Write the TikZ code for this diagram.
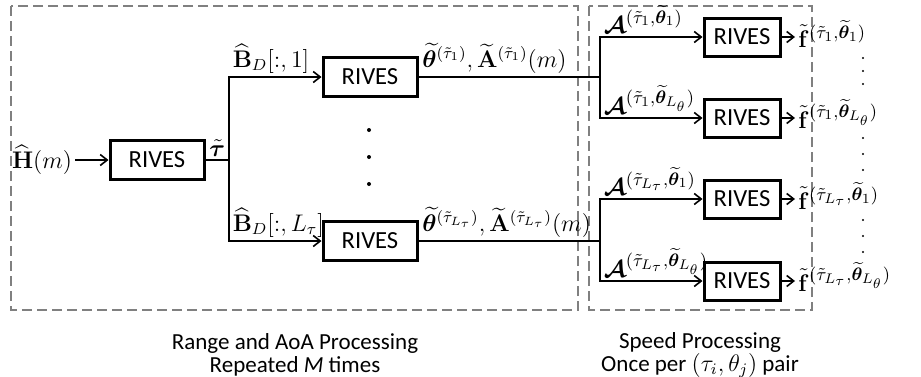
\documentclass[tikz,border=0pt]{standalone}
\usepackage{amsmath,bm}
\usepackage[no-math]{fontspec}
\setmainfont{Carlito}
\usetikzlibrary{arrows.meta}

\begin{document}
\begin{tikzpicture}[x=0.5pt, y=-0.5pt,
		>={Straight Barb[length=3.5pt,width=5.5pt]},   %Pfeilspitzen
		rives/.style={draw, line width=1.5pt, minimum width=47pt, minimum height=19.5pt, inner sep=0pt, font=\fontsize{12.3}{14}\selectfont},
		rivesR/.style={rives, minimum width=38pt, minimum height=19pt},
		lbl/.style={inner sep=1.5pt, font=\fontsize{12}{14}\selectfont},
		lblR/.style={lbl, font=\fontsize{13.2}{15}\selectfont},
		group/.style={draw=gray, line width=1pt, dash pattern=on 5pt off 2.5pt},
		caption/.style={align=center, font=\fontsize{11.5}{11.5}\selectfont},
		conn/.style={line width=0.8pt}]
		\useasboundingbox (0,0) rectangle (921,376);
		%Gruppen zeichnen
		\draw[group] (11,6) rectangle (578,310);
		\draw[group] (589,6) rectangle (812,310);
		\node[caption] (capL) at (295,355) {Range and AoA Processing\\Repeated \textit{M} times};
		\node[caption] (capR) at (700,355) {Speed Processing\\Once per $(\tau_i,\theta_j)$ pair};
		% Bloecke
		\node[lbl] (hin) at (42,160) {$\widehat{\mathbf{H}}(m)$};
		\node[rives] (r0) at (157,160) {RIVES};
		\node[rives] (r1) at (370,77) {RIVES};
		\node[rives] (r2) at (370,241) {RIVES};
		\node[rivesR] (s1) at (742,37) {RIVES};
		\node[rivesR] (s2) at (742,118) {RIVES};
		\node[rivesR] (s3) at (742,199) {RIVES};
		\node[rivesR] (s4) at (742,281) {RIVES};
		\coordinate (j0) at (229,160);
		\coordinate (j1) at (600,77);
		\coordinate (j2) at (600,241);
		% Ausgaenge
		\node[lblR, anchor=base west] (f1) at (795,47) {$\tilde{\mathbf{f}}^{(\tilde{\tau}_1,\widetilde{\bm{\theta}}_1)}$};
		\node[lblR, anchor=base west] (f2) at (795,128) {$\tilde{\mathbf{f}}^{(\tilde{\tau}_1,\widetilde{\bm{\theta}}_{L_\theta})}$};
		\node[lblR, anchor=base west] (f3) at (795,209) {$\tilde{\mathbf{f}}^{(\tilde{\tau}_{L_\tau},\widetilde{\bm{\theta}}_1)}$};
		\node[lblR, anchor=base west] (f4) at (795,291) {$\tilde{\mathbf{f}}^{(\tilde{\tau}_{L_\tau},\widetilde{\bm{\theta}}_{L_\theta})}$};
		%Verbindungen zeichnen
		\draw[conn,->] (hin) -- (r0);
		\draw[conn] (r0.east) -- (j0) node[lbl, midway, above] {$\tilde{\bm{\tau}}$};
		\draw[conn,->] (j0) |- (r1.west) node[lbl, pos=0.5, above right] {$\widehat{\mathbf{B}}_D[:,1]$};
		\draw[conn,->] (j0) |- (r2.west) node[lbl, pos=0.5, above right] {$\widehat{\mathbf{B}}_D[:,L_\tau]$};
		\draw[conn] (r1.east) -- (j1) node[lbl, pos=0, above right] {$\widetilde{\bm{\theta}}^{(\tilde{\tau}_1)},\widetilde{\mathbf{A}}^{(\tilde{\tau}_1)}(m)$};
		\draw[conn] (r2.east) -- (j2) node[lbl, pos=0, above right] {$\widetilde{\bm{\theta}}^{(\tilde{\tau}_{L_\tau})},\widetilde{\mathbf{A}}^{(\tilde{\tau}_{L_\tau})}(m)$};
		\draw[conn,->] (j1) |- (s1.west) node[lblR, pos=0.5, above right] {$\bm{\mathcal{A}}^{(\tilde{\tau}_1,\widetilde{\bm{\theta}}_1)}$};
		\draw[conn,->] (j1) |- (s2.west) node[lblR, pos=0.5, above right] {$\bm{\mathcal{A}}^{(\tilde{\tau}_1,\widetilde{\bm{\theta}}_{L_\theta})}$};
		\draw[conn,->] (j2) |- (s3.west) node[lblR, pos=0.5, above right] {$\bm{\mathcal{A}}^{(\tilde{\tau}_{L_\tau},\widetilde{\bm{\theta}}_1)}$};
		\draw[conn,->] (j2) |- (s4.west) node[lblR, pos=0.5, above right] {$\bm{\mathcal{A}}^{(\tilde{\tau}_{L_\tau},\widetilde{\bm{\theta}}_{L_\theta})}$};
		\foreach \i in {1,...,4}
			\draw[conn,->] (s\i.east) -- (s\i.east -| f\i.west);
		%Punkte
		\foreach \y in {130,157,184} \fill (369,\y) circle (1pt);
		\foreach \y in {58,71,84,138,154,170,220,236,252} \fill (863,\y) circle (0.6pt);
\end{tikzpicture}
\end{document}
